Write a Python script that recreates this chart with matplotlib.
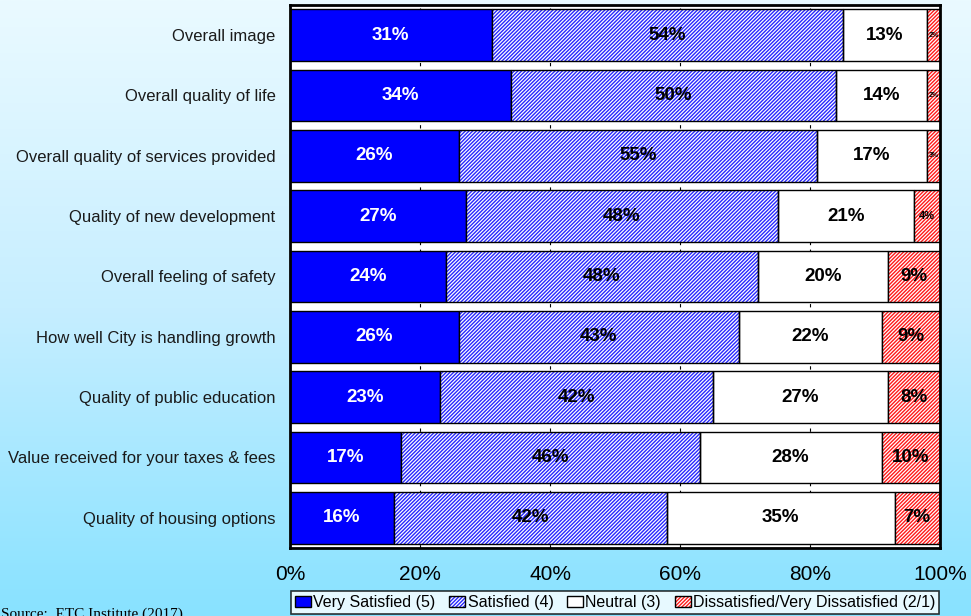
import numpy as np
import matplotlib
matplotlib.use('Agg')
import matplotlib.pyplot as plt
from matplotlib.patches import Patch
from matplotlib.legend_handler import HandlerTuple
import matplotlib.colors as mcolors

plt.rcParams['font.family'] = ['Liberation Sans', 'DejaVu Sans']
plt.rcParams['hatch.linewidth'] = 1.0

categories = ['Overall image',
              'Overall quality of life',
              'Overall quality of services provided',
              'Quality of new development',
              'Overall feeling of safety',
              'How well City is handling growth',
              'Quality of public education',
              'Value received for your taxes & fees',
              'Quality of housing options']

very_satisfied = [31, 34, 26, 27, 24, 26, 23, 17, 16]
satisfied = [54, 50, 55, 48, 48, 43, 42, 46, 42]
neutral = [13, 14, 17, 21, 20, 22, 27, 28, 35]
dissatisfied = [2, 2, 3, 4, 9, 9, 8, 10, 7]

series_names = ['Very Satisfied (5)', 'Satisfied (4)', 'Neutral (3)',
                'Dissatisfied/Very Dissatisfied (2/1)']
tick_vals = [0, 20, 40, 60, 80, 100]
tick_labels = ['0%', '20%', '40%', '60%', '80%', '100%']

BLUE = '#0000FF'
HATCH_BLUE = '#2828FF'
HATCH_RED = '#FF1A1A'
HATCH = '/' * 9

fig = plt.figure(figsize=(9.71, 6.16), dpi=100)

# background gradient, light at the top going to cyan at the bottom
bg = fig.add_axes([0, 0, 1, 1], zorder=-10)
cmap = mcolors.LinearSegmentedColormap.from_list('bg', ['#EAFAFF', '#C6EEFF', '#88E2FF'])
grad = np.linspace(0, 1, 256).reshape(-1, 1)
bg.imshow(grad, aspect='auto', cmap=cmap, extent=[0, 1, 0, 1], origin='upper')
bg.set_axis_off()

ax = fig.add_axes([0.2987, 0.1104, 0.6694, 0.8815])
ax.set_facecolor('white')

y = np.arange(len(categories))
h = 0.86

styles = [dict(face=BLUE, hatch=None, hcol=None, txt='white'),
          dict(face='white', hatch=HATCH, hcol=HATCH_BLUE, txt='black'),
          dict(face='white', hatch=None, hcol=None, txt='black'),
          dict(face='white', hatch=HATCH, hcol=HATCH_RED, txt='black')]

data = [very_satisfied, satisfied, neutral, dissatisfied]
left = np.zeros(len(categories))
for vals, st in zip(data, styles):
    vals = np.array(vals, dtype=float)
    if st['hatch']:
        ax.barh(y, vals, left=left, height=h, color=st['face'], hatch=st['hatch'],
                edgecolor=st['hcol'], linewidth=0, zorder=2)
        ax.barh(y, vals, left=left, height=h, fill=False, edgecolor='black',
                linewidth=1, zorder=3)
    else:
        ax.barh(y, vals, left=left, height=h, color=st['face'], edgecolor='black',
                linewidth=1, zorder=2)
    for i in range(len(y)):
        right = min(left[i] + vals[i], 100)
        xc = (left[i] + right) / 2
        v = int(vals[i])
        if v <= 3:
            fs = 5
        elif v <= 4:
            fs = 8
        else:
            fs = 13.5
        ax.text(xc, y[i], '%d%%' % v, ha='center', va='center', color=st['txt'],
                fontsize=fs, fontweight='bold', zorder=5)
    left = left + vals

ax.set_xlim(0, 100)
ax.set_ylim(len(categories) - 0.5, -0.5)
ax.set_yticks(y)
ax.set_yticklabels(categories, fontsize=12, color='#1a1a1a')
ax.set_xticks(tick_vals)
ax.set_xticklabels(tick_labels, fontsize=15)
ax.tick_params(axis='x', length=0, pad=12)
ax.tick_params(axis='y', length=0, pad=10.5)
ax.xaxis.grid(True, color='black', linestyle=(0, (3, 4)), linewidth=0.8)
ax.set_axisbelow(True)
for s in ax.spines.values():
    s.set_linewidth(2)
    s.set_color('black')

handles = [Patch(facecolor=BLUE, edgecolor='black', linewidth=1),
           (Patch(facecolor='white', hatch=HATCH, edgecolor=HATCH_BLUE, linewidth=0),
            Patch(fill=False, edgecolor='black', linewidth=1)),
           Patch(facecolor='white', edgecolor='black', linewidth=1),
           (Patch(facecolor='white', hatch=HATCH, edgecolor=HATCH_RED, linewidth=0),
            Patch(fill=False, edgecolor='black', linewidth=1))]
leg = fig.legend(handles, series_names, ncol=4, loc='lower left',
                 bbox_to_anchor=(291 / 971, 2 / 616), frameon=True, fancybox=False,
                 handler_map={tuple: HandlerTuple(ndivide=1)},
                 handlelength=1.0, handleheight=0.7, handletextpad=0.15,
                 columnspacing=0.85, borderpad=0.25, borderaxespad=0,
                 prop=dict(size=11.5))
leg.get_frame().set_edgecolor('black')
leg.get_frame().set_linewidth(1.2)
leg.get_frame().set_facecolor('white')

fig.text(0.001, 1 - 608 / 616, 'Source:  ETC Institute (2017)', ha='left', va='top',
         fontsize=11, family=['Liberation Serif', 'DejaVu Serif'])

fig.savefig('out.png', dpi=100)
